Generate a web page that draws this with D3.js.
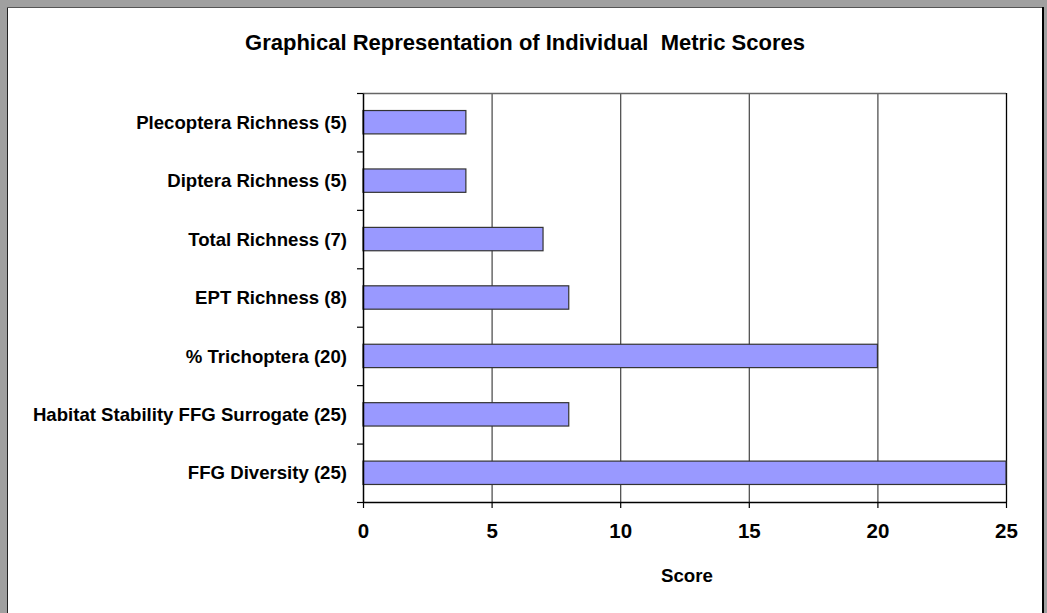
<!DOCTYPE html>
<html><head><meta charset="utf-8">
<script src="https://cdn.jsdelivr.net/npm/d3@7"></script>
<style>
html,body{margin:0;padding:0;background:#fff;}
svg text{font-family:"Liberation Sans",Arial,sans-serif;font-weight:bold;fill:#000;}
</style></head>
<body>
<svg id="c" width="1047" height="613"></svg>
<script>
const categories = ["Plecoptera Richness (5)","Diptera Richness (5)","Total Richness (7)","EPT Richness (8)","% Trichoptera (20)","Habitat Stability FFG Surrogate (25)","FFG Diversity (25)"];
const scores = [4,4,7,8,20,8,25];
const xTicks = [0,5,10,15,20,25];
const titleText = "Graphical Representation of Individual  Metric Scores";
const xLabel = "Score";

const svg = d3.select("#c");
const W = 1047, H = 613;
// frame
svg.append("rect").attr("x",0).attr("y",0).attr("width",W).attr("height",H).attr("fill","#a0a0a0");
svg.append("rect").attr("x",7).attr("y",7).attr("width",1036).attr("height",H-7).attr("fill","#fff");
svg.append("line").attr("x1",7.5).attr("x2",7.5).attr("y1",7).attr("y2",H).attr("stroke","#222");
svg.append("line").attr("x1",7).attr("x2",1043).attr("y1",7.5).attr("y2",7.5).attr("stroke","#555");
svg.append("line").attr("x1",1043).attr("x2",1043).attr("y1",7).attr("y2",H).attr("stroke","#000").attr("stroke-width",2);

const L = 363, R = 1006, T = 93, B = 502;
const x = d3.scaleLinear().domain([0,25]).range([L,R]);
const yb = d3.scaleBand().domain(categories).range([T,B]).paddingInner(0.6).paddingOuter(0.3);
const yi = d3.scaleLinear().domain([0,categories.length]).range([T,B]);

// gridlines
svg.append("g").selectAll("line").data(xTicks.filter(d=>d>0 && d<25)).join("line")
  .attr("x1",d=>x(d)+0.5).attr("x2",d=>x(d)+0.5).attr("y1",T).attr("y2",B)
  .attr("stroke","#444").attr("stroke-width",1.2);
// plot border top & right
svg.append("line").attr("x1",L).attr("x2",R).attr("y1",T+0.5).attr("y2",T+0.5).attr("stroke","#666").attr("stroke-width",1.3);
svg.append("line").attr("x1",R+0.5).attr("x2",R+0.5).attr("y1",T).attr("y2",B).attr("stroke","#000").attr("stroke-width",1.3);

// bars
svg.append("g").selectAll("rect").data(categories).join("rect")
  .attr("x",x(0)).attr("y",d=>yb(d))
  .attr("width",(d,i)=>x(scores[i])-x(0)).attr("height",yb.bandwidth())
  .attr("fill","#9999ff").attr("stroke","#333").attr("stroke-width",1.2);

// x axis
const xa = svg.append("g").attr("transform",`translate(0,${B})`)
  .call(d3.axisBottom(x).tickValues(xTicks).tickSize(6).tickPadding(15).tickSizeOuter(0));
xa.select(".domain").attr("stroke","#000").attr("stroke-width",1.5);
xa.selectAll(".tick line").attr("stroke","#000").attr("stroke-width",1.2);
xa.selectAll(".tick text").attr("font-size","20.5px").attr("font-family","Liberation Sans, Arial, sans-serif").attr("font-weight","bold");

// y axis ticks at boundaries
const ya = svg.append("g").attr("transform",`translate(${L},0)`)
  .call(d3.axisLeft(yi).tickValues(d3.range(categories.length+1)).tickFormat("").tickSize(6).tickSizeOuter(0));
ya.select(".domain").attr("stroke","#000").attr("stroke-width",1.5);
ya.selectAll(".tick line").attr("stroke","#000").attr("stroke-width",1.2);

// category labels
const yl = svg.append("g").attr("transform",`translate(${L},0)`)
  .call(d3.axisLeft(yb).tickSize(0).tickPadding(16));
yl.select(".domain").remove();
yl.selectAll(".tick text").attr("font-size","18.6px").attr("font-family","Liberation Sans, Arial, sans-serif").attr("font-weight","bold").attr("dy","0.36em");

// title
svg.append("text").attr("x",525).attr("y",50).attr("text-anchor","middle")
  .attr("font-size","22px").style("white-space","pre").text(titleText);
// x label
svg.append("text").attr("x",687).attr("y",582).attr("text-anchor","middle")
  .attr("font-size","18.7px").text(xLabel);
</script>
</body></html>
